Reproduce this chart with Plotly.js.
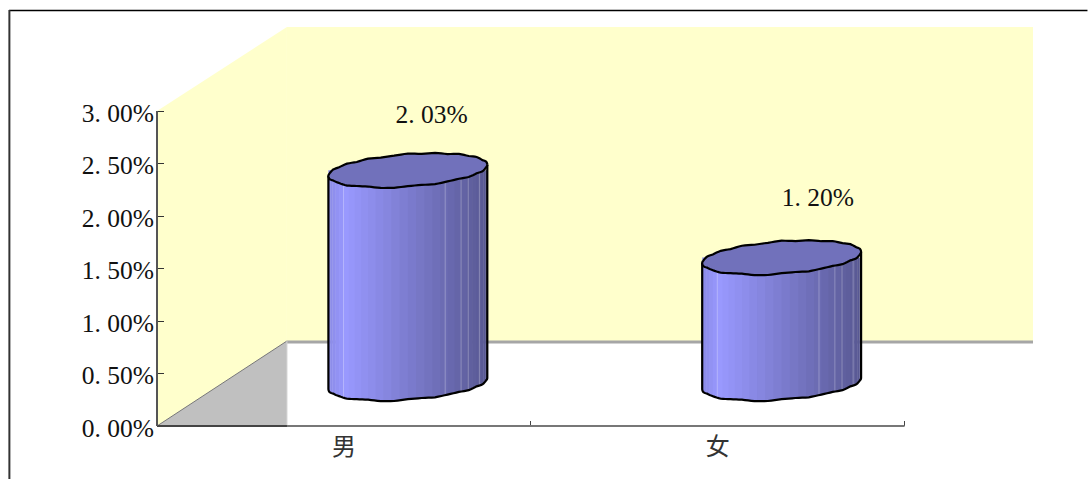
<!DOCTYPE html>
<html><head><meta charset="utf-8">
<script src="https://cdn.plot.ly/plotly-3.0.1.min.js"></script>
<style>html,body{margin:0;padding:0;background:#fff}#c{width:1088px;height:479px}</style>
</head><body><div id="c"></div>
<script>
const categories = ['男', '女'];
const values = [2.03, 1.20];
const yTicks = [0, 0.5, 1, 1.5, 2, 2.5, 3];
const labelOffsetX = [0.235, 0.268];
const labelOffsetY = [0.915, 0.96];
const W = 1088, H = 479;
// plot box in pixels (includes the false-3D back wall)
const L = 157, R = 1033.5, T = 27, B = 426;
const pxX = 374, pxY = 105;         // pixels per unit of each axis
const dx = 130 / pxX, dy = 85 / pxY; // depth of the false-3D box
const xMin = -0.5, xMax = xMin + (R - L) / pxX, yMax = (B - T) / pxY;
const yTop = 3, xEnd = 1.5;
const cylA = 79.5 / pxX, cylB = 16.2 / pxY, cylS = 5.5 / pxY;
const cylDx = 64 / pxX, cylDy = 42.5 / pxY;
const N = 30;
const seams = [0.095, 0.735, 0.835, 0.88, 0.95];
// slight waviness of the rims, in pixels, one value per 10 degrees
const rimWobble = [0, .5, -.5, .5, -.3, .5, -.5, .3, -.5, .6, -.3, -.6, .5, -.5, .5, -.3, .5, -.5,
                   0, -.5, .6, .2, -.6, .3, .6, -.5, -.6, .5, .5, -.5, .2, .5, -.5, .5, -.5, .5];
const wob = t => {
  const u = ((t / (2 * Math.PI)) % 1 + 1) % 1 * rimWobble.length, i = Math.floor(u), f = u - i;
  return (rimWobble[i] * (1 - f) + rimWobble[(i + 1) % rimWobble.length] * f) / pxY;
};
const fmt = v => v.toFixed(2).replace('.', '. ') + '%';
const toHex = c => 'rgb(' + c.map(Math.round).join(',') + ')';
function side(f) {
  const a = [138, 138, 230], p = [153, 153, 255], e = [88, 88, 146];
  const pk = 0.11;
  if (f < pk) { const k = f / pk; return a.map((c, i) => c + (p[i] - c) * k); }
  const k = (f - pk) / (1 - pk); return p.map((c, i) => c + (e[i] - c) * k);
}
const traces = [];
const deco = { hoverinfo: 'skip', showlegend: false };
// y of the rim at parameter t (t in 0..2pi, counter-clockwise, 0 = right tip)
const rimY = (cy, t) => cy + cylB * Math.sin(t) + cylS * Math.cos(t) + wob(t);
values.forEach((v, i) => {
  const cx = i + cylDx, y0 = cylDy, y1 = cylDy + v;
  // side stripes, each following the lower and upper rim
  for (let k = 0; k < N; k++) {
    const t0 = Math.PI + Math.PI * k / N, t1 = Math.min(Math.PI + Math.PI * (k + 1.15) / N, 2 * Math.PI);
    const xs = [], ys = [], upY = [];
    const M = 4;
    for (let m = 0; m <= M; m++) {
      const t = t0 + (t1 - t0) * m / M;
      xs.push(cx + cylA * Math.cos(t)); ys.push(rimY(y0, t)); upY.push(y1);
    }
    const frac = ((xs[0] + xs[M]) / 2 - (cx - cylA)) / (2 * cylA);
    traces.push({ x: xs.concat(xs.slice().reverse()), y: ys.concat(upY), mode: 'lines', fill: 'toself',
      fillcolor: toHex(side(frac)), line: { width: 0, simplify: false }, ...deco });
  }
  // faint seams of the side surface
  const sx = [], sy = [];
  seams.forEach(f => {
    const x = cx - cylA + 2 * cylA * f, t = 2 * Math.PI - Math.acos((x - cx) / cylA);
    sx.push(x, x, null); sy.push(rimY(y0, t), y1, null);
  });
  traces.push({ x: sx, y: sy, mode: 'lines', line: { color: 'rgba(255,255,255,0.28)', width: 1 }, ...deco });
  // outline of the side
  const ox = [cx - cylA], oy = [y1 - cylS];
  for (let k = 0; k <= 72; k++) {
    const t = Math.PI + Math.PI * k / 72;
    ox.push(cx + cylA * Math.cos(t)); oy.push(rimY(y0, t));
  }
  ox.push(cx + cylA); oy.push(y1 + cylS);
  traces.push({ x: ox, y: oy, mode: 'lines', line: { color: '#000', width: 2.2, simplify: false }, ...deco });
  // top cap
  const tx = [], ty = [];
  for (let k = 0; k <= 144; k++) {
    const t = 2 * Math.PI * k / 144;
    tx.push(cx + cylA * Math.cos(t)); ty.push(rimY(y1, t));
  }
  traces.push({ x: tx, y: ty, mode: 'lines', fill: 'toself', fillcolor: '#7171BB', line: { color: '#000', width: 2.2, simplify: false }, ...deco });
});
// data labels
traces.push({ x: values.map((v, i) => i + labelOffsetX[i]), y: values.map((v, i) => v + labelOffsetY[i]), mode: 'text', text: values.map(fmt),
  textposition: 'middle center', textfont: { family: '"Liberation Serif", serif', size: 25.5, color: '#111' }, ...deco });

const poly = pts => 'M' + pts.map(p => p.join(',')).join('L') + 'Z';
const fx = px => (px - L) / (R - L), fy = py => (B - py) / (B - T);
const shapes = [
  { type: 'path', xref: 'x', yref: 'y', layer: 'below', path: poly([[xMin + dx, dy], [xMax, dy], [xMax, yMax], [xMin + dx, yMax]]), fillcolor: '#FFFFCC', line: { width: 0 } },
  { type: 'path', xref: 'x', yref: 'y', layer: 'below', path: poly([[xMin, 0], [xMin, yTop], [xMin + dx, yMax], [xMin + dx, dy]]), fillcolor: '#FFFFCC', line: { width: 0 } },
  { type: 'path', xref: 'x', yref: 'y', layer: 'below', path: poly([[xMin, 0], [xMin + dx, dy], [xMin + dx, 0]]), fillcolor: '#C0C0C0', line: { width: 0 } },
  { type: 'line', xref: 'x', yref: 'y', layer: 'below', x0: xMin, y0: 0, x1: xMin + dx, y1: dy, line: { color: '#777', width: 1 } },
  { type: 'line', xref: 'x', yref: 'y', layer: 'below', x0: xMin + dx, y0: dy - 1 / pxY, x1: xMax, y1: dy - 1 / pxY, line: { color: '#a6a6a6', width: 3 } },
  { type: 'line', xref: 'x', yref: 'y', layer: 'below', x0: xMin + dx, y0: dy, x1: xMin + dx, y1: 0, line: { color: '#d0d0d0', width: 1 } },
  // axis lines stop at the last tick, before the wall overhang; half-paper references keep them unclipped
  { type: 'line', xref: 'x', yref: 'paper', x0: xMin, y0: 0, x1: xEnd, y1: 0, line: { color: '#777', width: 2 } },
  { type: 'line', xref: 'x', yref: 'paper', x0: xMin, y0: 0, x1: xMin + dx, y1: 0, line: { color: '#444', width: 2 } },
  { type: 'line', xref: 'paper', yref: 'y', x0: 0, y0: 0, x1: 0, y1: yTop, line: { color: '#555', width: 2 } },
  // outer chart frame, cut off by the picture
  { type: 'line', xref: 'paper', yref: 'paper', x0: fx(9), y0: fy(10.5), x1: fx(1088), y1: fy(10.5), line: { color: '#000', width: 1.3 } },
  { type: 'line', xref: 'paper', yref: 'paper', x0: fx(9.3), y0: fy(10), x1: fx(9.3), y1: fy(479), line: { color: '#333', width: 2 } }
];
const layout = {
  width: W, height: H, showlegend: false,
  margin: { l: L, r: W - R, t: T, b: H - B, pad: 0 },
  paper_bgcolor: '#fff', plot_bgcolor: 'rgba(0,0,0,0)', shapes,
  xaxis: { type: 'linear', range: [xMin, xMax], showgrid: false, zeroline: false, showline: false,
    tickmode: 'array', tickvals: categories.map((c, i) => i), ticktext: categories, ticks: '', ticklabelstandoff: 4,
    tickfont: { family: '"Noto Sans CJK SC", serif', size: 24, color: '#333' },
    minor: { tickmode: 'array', tickvals: [-0.5, 0.5, 1.5], ticks: 'inside', ticklen: 5, tickwidth: 1, tickcolor: '#444', showgrid: false } },
  yaxis: { range: [0, yMax], showgrid: false, zeroline: false, showline: false,
    tickmode: 'array', tickvals: yTicks, ticktext: yTicks.map(fmt), ticks: 'inside', ticklen: 7, tickwidth: 1, tickcolor: '#333',
    ticklabelstandoff: 2, ticklabelshift: 2,
    tickfont: { family: '"Liberation Serif", serif', size: 25.5, color: '#111' } }
};
Plotly.newPlot('c', traces, layout, { staticPlot: true, displayModeBar: false });
</script></body></html>
